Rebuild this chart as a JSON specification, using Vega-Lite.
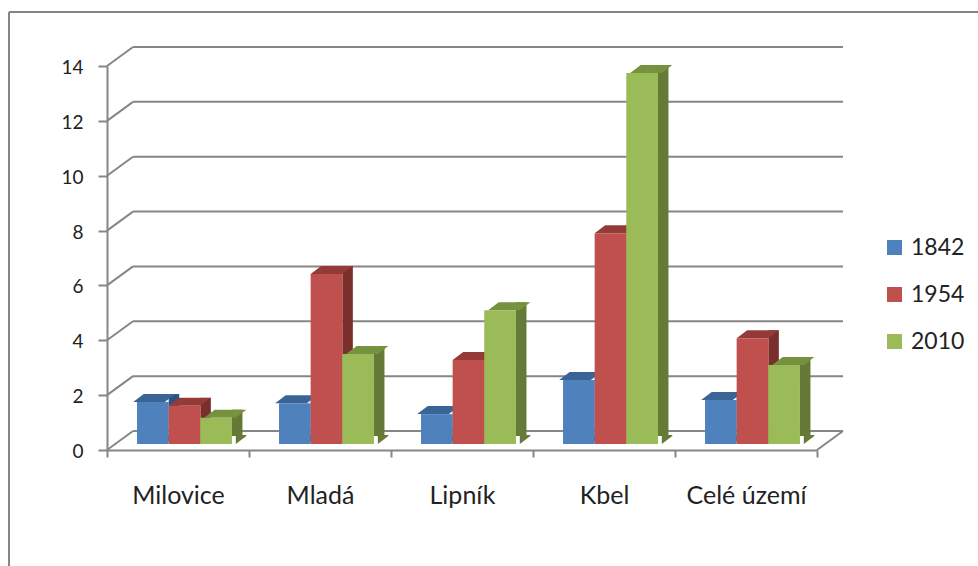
{
  "$schema": "https://vega.github.io/schema/vega-lite/v6.json",
  "width": 710,
  "height": 384,
  "autosize": {"type": "none"},
  "padding": {"left": 107, "top": 66, "right": 161, "bottom": 116},
  "background": "white",
  "view": {"stroke": null},
  "config": {
    "font": "Lato",
    "axis": {"labelColor": "#222222", "domainColor": "#868686", "tickColor": "#868686", "domainWidth": 2, "tickWidth": 2}
  },
  "datasets": {
    "bars": [
      {"place": "Milovice", "year": "1842", "value": 1.53, "base": 0},
      {"place": "Milovice", "year": "1954", "value": 1.39, "base": 0},
      {"place": "Milovice", "year": "2010", "value": 0.96, "base": 0},
      {"place": "Mladá", "year": "1842", "value": 1.49, "base": 0},
      {"place": "Mladá", "year": "1954", "value": 6.2, "base": 0},
      {"place": "Mladá", "year": "2010", "value": 3.28, "base": 0},
      {"place": "Lipník", "year": "1842", "value": 1.09, "base": 0},
      {"place": "Lipník", "year": "1954", "value": 3.06, "base": 0},
      {"place": "Lipník", "year": "2010", "value": 4.88, "base": 0},
      {"place": "Kbel", "year": "1842", "value": 2.33, "base": 0},
      {"place": "Kbel", "year": "1954", "value": 7.68, "base": 0},
      {"place": "Kbel", "year": "2010", "value": 13.53, "base": 0},
      {"place": "Celé území", "year": "1842", "value": 1.6, "base": 0},
      {"place": "Celé území", "year": "1954", "value": 3.86, "base": 0},
      {"place": "Celé území", "year": "2010", "value": 2.88, "base": 0}
    ],
    "ticks": [
      {"tick": 0}, {"tick": 2}, {"tick": 4}, {"tick": 6}, {"tick": 8}, {"tick": 10}, {"tick": 12}, {"tick": 14}
    ]
  },
  "layer": [
    {
      "description": "Outer frame of the chart area: top edge",
      "data": {"values": [{"tick": 14}]},
      "mark": {"type": "rule", "color": "#868686", "strokeWidth": 2, "xOffset": -98, "x2Offset": 240, "yOffset": -54},
      "encoding": {
        "x": {"datum": "Milovice", "bandPosition": 0, "title": null, "scale": {"domain": ["Milovice", "Mladá", "Lipník", "Kbel", "Celé území"]}},
        "x2": {"datum": "Celé území"},
        "y": {"field": "tick", "type": "quantitative", "title": null, "scale": {"domain": [0, 14], "nice": false}}
      }
    },
    {
      "description": "Outer frame of the chart area: left edge",
      "data": {"values": [{"tick": 14, "base": 0, "place": "Milovice"}]},
      "mark": {"type": "rule", "color": "#868686", "strokeWidth": 2, "xOffset": -98, "yOffset": -54, "y2Offset": 116},
      "encoding": {
        "x": {"field": "place", "type": "nominal", "bandPosition": 0, "title": null},
        "y": {"field": "tick", "type": "quantitative", "title": null},
        "y2": {"field": "base"}
      }
    },
    {
      "description": "Gridlines on the back wall",
      "data": {"name": "ticks"},
      "mark": {"type": "rule", "color": "#868686", "strokeWidth": 2, "xOffset": 26, "x2Offset": 97, "yOffset": -19},
      "encoding": {
        "x": {"datum": "Milovice", "bandPosition": 0, "title": null},
        "x2": {"datum": "Celé území"},
        "y": {
          "field": "tick",
          "type": "quantitative",
          "title": null,
          "axis": {"values": [0, 2, 4, 6, 8, 10, 12, 14], "grid": false, "tickSize": 9, "labelFontSize": 19, "labelPadding": 15, "labelOffset": 1.5, "title": null}
        }
      }
    },
    {
      "description": "Slanted gridline segments on the side wall",
      "data": {"name": "ticks"},
      "mark": {"type": "point", "size": 4, "shape": "M0,0L26,-19", "filled": false, "color": "#868686", "strokeWidth": 2, "opacity": 1},
      "encoding": {
        "x": {"datum": "Milovice", "bandPosition": 0, "title": null},
        "y": {"field": "tick", "type": "quantitative", "title": null}
      }
    },
    {
      "description": "Slanted floor edge on the right",
      "data": {"values": [{"tick": 0, "place": "Celé území"}]},
      "mark": {"type": "point", "size": 4, "shape": "M0,0L26,-19", "filled": false, "color": "#868686", "strokeWidth": 2, "opacity": 1},
      "encoding": {
        "x": {"field": "place", "type": "nominal", "bandPosition": 1, "title": null},
        "y": {"field": "tick", "type": "quantitative", "title": null}
      }
    },
    {
      "description": "Right-hand faces of the bars",
      "data": {"name": "bars"},
      "mark": {"type": "bar", "width": 10.5, "yOffset": -14, "y2Offset": -14},
      "encoding": {
        "x": {"field": "place", "type": "nominal", "title": null},
        "xOffset": {"field": "year", "type": "nominal", "scale": {"range": [27.6, 169.6], "paddingInner": 0, "paddingOuter": 0.746}},
        "y": {"field": "value", "type": "quantitative", "stack": null, "title": null},
        "y2": {"field": "base"},
        "color": {"field": "year", "type": "nominal", "legend": null, "scale": {"domain": ["1842", "1954", "2010"], "range": ["#2F5180", "#7A2F2D", "#667A38"]}}
      }
    },
    {
      "description": "Lower corner of each right-hand face, overlapping the face slightly",
      "data": {"name": "bars"},
      "mark": {"type": "point", "size": 4, "shape": "M15.8,-9L26.3,-9L26.3,-8L15.8,0Z", "filled": true, "opacity": 1, "strokeWidth": 0, "yOffset": -6},
      "encoding": {
        "x": {"field": "place", "type": "nominal", "title": null},
        "xOffset": {"field": "year", "type": "nominal", "scale": {"type": "point", "range": [6.5, 148.5], "padding": 1.246}},
        "y": {"field": "base", "type": "quantitative", "title": null},
        "color": {"field": "year", "type": "nominal", "legend": null, "scale": {"domain": ["1842", "1954", "2010"], "range": ["#2F5180", "#7A2F2D", "#667A38"]}}
      }
    },
    {
      "description": "Top faces of the bars",
      "data": {"name": "bars"},
      "mark": {"type": "point", "size": 4, "shape": "M-15.8,0L-5.3,-8L26.3,-8L15.8,0Z", "filled": true, "opacity": 1, "strokeWidth": 0, "yOffset": -6},
      "encoding": {
        "x": {"field": "place", "type": "nominal", "title": null},
        "xOffset": {"field": "year", "type": "nominal", "scale": {"type": "point", "range": [6.5, 148.5], "padding": 1.246}},
        "y": {"field": "value", "type": "quantitative", "title": null},
        "color": {"field": "year", "type": "nominal", "legend": null, "scale": {"domain": ["1842", "1954", "2010"], "range": ["#3A6496", "#943A38", "#76923F"]}}
      }
    },
    {
      "description": "Front faces of the bars, with the legend",
      "data": {"name": "bars"},
      "mark": {"type": "bar", "width": 31.7, "yOffset": -6, "y2Offset": -6},
      "encoding": {
        "x": {
          "field": "place",
          "type": "nominal",
          "title": null,
          "axis": {"labelAngle": 0, "labelAlign": "center", "tickBand": "extent", "tickSize": 7, "labelFontSize": 25, "labelPadding": 38, "title": null}
        },
        "xOffset": {"field": "year", "type": "nominal", "scale": {"range": [6.5, 148.5], "paddingInner": 0, "paddingOuter": 0.746}},
        "y": {"field": "value", "type": "quantitative", "stack": null, "title": null},
        "y2": {"field": "base"},
        "color": {
          "field": "year",
          "type": "nominal",
          "scale": {"domain": ["1842", "1954", "2010"], "range": ["#4F81BD", "#C0504D", "#9BBB59"]},
          "legend": {"title": null, "orient": "none", "legendX": 776, "legendY": 170, "symbolType": "square", "symbolSize": 225, "symbolStrokeWidth": 0, "labelFontSize": 23, "labelColor": "#222222", "rowPadding": 23, "labelOffset": 5}
        }
      }
    }
  ],
  "resolve": {"scale": {"color": "independent", "xOffset": "independent"}}
}
